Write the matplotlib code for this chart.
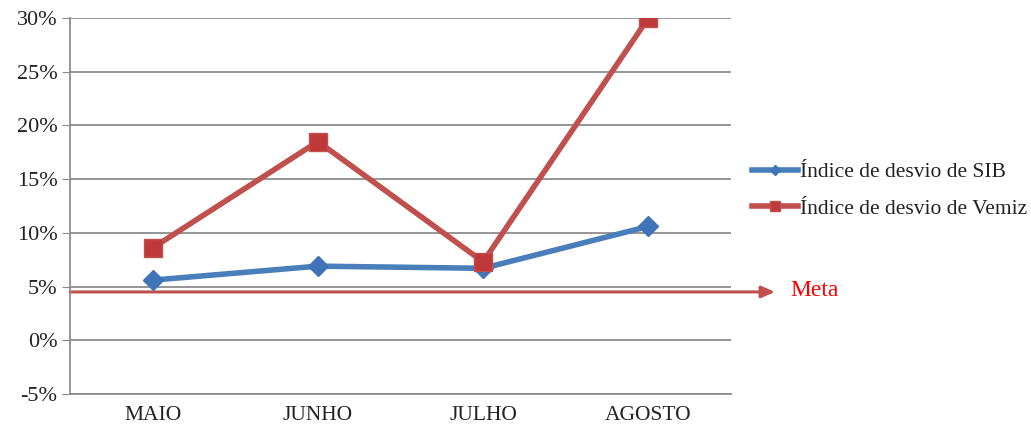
import matplotlib
matplotlib.use("Agg")
import matplotlib.pyplot as plt
from matplotlib.ticker import FuncFormatter

months = ["MAIO", "JUNHO", "JULHO", "AGOSTO"]
sib = [5.6, 6.9, 6.7, 10.6]
vemiz = [8.6, 18.5, 7.3, 30.0]
meta = 4.5
yticks = [-5, 0, 5, 10, 15, 20, 25, 30]

plt.rcParams['font.family'] = ['Liberation Serif', 'DejaVu Serif']

fig = plt.figure(figsize=(10.31, 4.29), dpi=100)
ax = fig.add_axes([0.068, 0.0816, 0.641, 0.8765])

x = list(range(len(months)))
ax.set_xlim(-0.5, len(months) - 0.5)
ax.set_ylim(-5, 30)
ax.set_yticks(yticks)
ax.yaxis.set_major_formatter(FuncFormatter(lambda v, p: f"{int(v)}%"))
ax.grid(axis='y', color='#8c8c8c', linewidth=1.3)
ax.set_axisbelow(True)
for s in ['top', 'right']:
    ax.spines[s].set_visible(False)
for s in ['left', 'bottom']:
    ax.spines[s].set_color('#8c8c8c')
    ax.spines[s].set_linewidth(1.3)
ax.tick_params(axis='y', length=6, color='#8c8c8c', labelsize=16, labelcolor='#222222', pad=3)
ax.tick_params(axis='x', length=0, labelsize=15.5, labelcolor='#222222', pad=9)
ax.set_xticks(x)
ax.set_xticklabels(months)

l1, = ax.plot(x, sib, color='#4a7ebb', linewidth=4, marker='D', markersize=10,
              markerfacecolor='#3f74b8', markeredgecolor='#3f74b8',
              label='Índice de desvio de SIB', zorder=3)
l2, = ax.plot(x, vemiz, color='#c0504d', linewidth=4, marker='s', markersize=13,
              markerfacecolor='#c0393a', markeredgecolor='#c0504d',
              label='Índice de desvio de Vemiz', zorder=4)

# Meta arrow
ax.annotate('', xy=(775 / 1031, meta), xycoords=('figure fraction', 'data'),
            xytext=(-0.5, meta), textcoords='data',
            arrowprops=dict(arrowstyle='-|>,head_length=0.8,head_width=0.35',
                        color='#c0504d', lw=2.2, shrinkA=0, shrinkB=0),
            annotation_clip=False, zorder=2)
fig.text(790 / 1031, 1 - 291 / 429, 'Meta', color='#ff0000', fontsize=17,
         va='center', ha='left')

leg = fig.legend(handles=[l1, l2], loc='upper left',
                 bbox_to_anchor=(733 / 1031, 1 - 143 / 429), frameon=False,
                 fontsize=15.5, handlelength=2.1, handletextpad=0.1,
                 labelspacing=0.75, markerscale=0.5)
for t in leg.get_texts():
    t.set_color('#222222')

fig.savefig('out.png', dpi=100)
